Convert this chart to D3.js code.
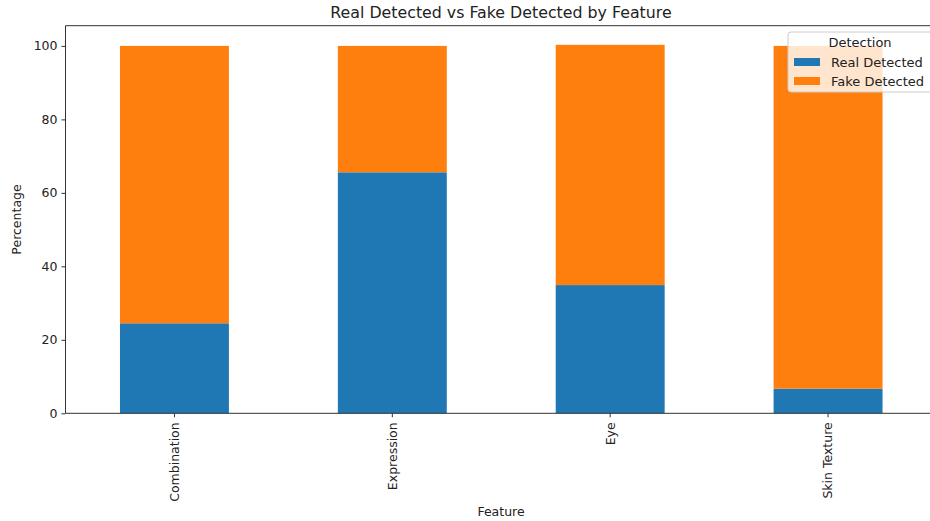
<!DOCTYPE html>
<html><head><meta charset="utf-8">
<script src="https://cdn.jsdelivr.net/npm/d3@7/dist/d3.min.js"></script>
<style>body{margin:0;background:#fff}svg{display:block;font-family:"DejaVu Sans",sans-serif}</style>
</head><body><svg id="c" width="930" height="521"></svg>
<script>
const categories = ["Combination", "Expression", "Eye", "Skin Texture"];
const realDetected = [24.5, 65.6, 34.9, 6.7];
const fakeDetected = [75.5, 34.4, 65.4, 93.3];
const seriesNames = ["Real Detected", "Fake Detected"];
const seriesColors = ["#1f77b4", "#ff7f0e"];
const yTicks = [0, 20, 40, 60, 80, 100];

const svg = d3.select("#c");
const L = 65.5, R = 937, T = 25.7, B = 413.3;
const y = d3.scaleLinear().domain([0, 105.5]).range([B, T]);
const x = d3.scaleBand().domain(categories).range([L, R]).paddingInner(0.5).paddingOuter(0.25);

const rows = categories.map((c, i) => ({cat: c, "Real Detected": realDetected[i], "Fake Detected": fakeDetected[i]}));
const stacked = d3.stack().keys(seriesNames)(rows);

const g = svg.append("g");
stacked.forEach((s, si) => {
  g.selectAll(null).data(s).enter().append("rect")
    .attr("x", d => x(d.data.cat))
    .attr("width", x.bandwidth())
    .attr("y", d => y(d[1]))
    .attr("height", d => y(d[0]) - y(d[1]))
    .attr("fill", seriesColors[si]);
});

// spines
const sp = svg.append("g").attr("stroke", "#333").attr("stroke-width", 1).attr("fill", "none");
sp.append("line").attr("x1", L).attr("x2", L).attr("y1", T).attr("y2", B);
sp.append("line").attr("x1", L).attr("x2", R).attr("y1", T).attr("y2", T);
sp.append("line").attr("x1", L).attr("x2", R).attr("y1", B).attr("y2", B);
sp.append("line").attr("x1", R).attr("x2", R).attr("y1", T).attr("y2", B);

// y axis
const ya = svg.append("g").attr("transform", `translate(${L},0)`)
  .call(d3.axisLeft(y).tickValues(yTicks).tickSize(4).tickPadding(4));
ya.select(".domain").remove();
ya.selectAll(".tick line").attr("stroke", "#333");
ya.selectAll(".tick text").attr("font-size", 12.5).attr("fill", "#222").attr("font-family", "DejaVu Sans");

// x axis
const xa = svg.append("g").attr("transform", `translate(0,${B})`)
  .call(d3.axisBottom(x).tickSize(4).tickPadding(0));
xa.select(".domain").remove();
xa.selectAll(".tick line").attr("stroke", "#333");
xa.selectAll(".tick text").attr("font-size", 12.5).attr("fill", "#222").attr("font-family", "DejaVu Sans")
  .attr("transform", "translate(0,9) rotate(-90)")
  .attr("text-anchor", "end").attr("dy", "0.35em").attr("y", 0).attr("x", 0);

// title and labels
svg.append("text").attr("x", 501).attr("y", 18)
  .attr("text-anchor", "middle").attr("font-size", 15.8).attr("fill", "#222")
  .text("Real Detected vs Fake Detected by Feature");
svg.append("text").attr("x", 501).attr("y", 516).attr("text-anchor", "middle")
  .attr("font-size", 12.5).attr("fill", "#222").text("Feature");
svg.append("text").attr("transform", `translate(21,${(T + B) / 2}) rotate(-90)`)
  .attr("text-anchor", "middle").attr("font-size", 12.5).attr("fill", "#222").text("Percentage");

// legend
const lg = svg.append("g").attr("transform", "translate(788,32)");
lg.append("rect").attr("width", 150).attr("height", 60).attr("rx", 3)
  .attr("fill", "#fff").attr("fill-opacity", 0.8).attr("stroke", "#ccc").attr("stroke-width", 1);
lg.append("text").attr("x", 72).attr("y", 15).attr("text-anchor", "middle")
  .attr("font-size", 13).attr("fill", "#222").text("Detection");
seriesNames.forEach((n, i) => {
  lg.append("rect").attr("x", 6).attr("y", 26 + i * 19).attr("width", 26).attr("height", 8).attr("fill", seriesColors[i]);
  lg.append("text").attr("x", 43).attr("y", 34.5 + i * 19).attr("font-size", 13).attr("fill", "#222").text(n);
});
</script></body></html>
